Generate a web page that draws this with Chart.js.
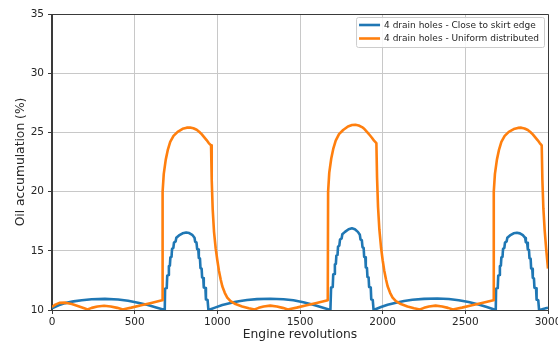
<!DOCTYPE html>
<html>
<head>
<meta charset="utf-8">
<script src="https://cdn.jsdelivr.net/npm/chart.js"></script>
<style>
  html, body { margin: 0; padding: 0; background: #fff; }
  canvas { display: block; }
</style>
</head>
<body>
<canvas id="oilChart" width="558" height="344"></canvas>
<script>
// engine revolutions / oil accumulation (%) for the two drain hole layouts
var closeRev = [
  0, 40, 80, 130, 180, 240, 320, 400, 460, 520, 580, 630, 682,
  684, 694, 697, 704, 707, 713, 716, 723, 726, 734, 738, 748, 752, 768, 790, 812, 830, 848, 862,
  866, 874, 878, 885, 888, 895, 898, 905, 908, 915, 918, 928, 931, 941, 946,
  990, 1030, 1080, 1130, 1180, 1240, 1320, 1400, 1460, 1520, 1580, 1630, 1684,
  1688, 1698, 1701, 1708, 1711, 1717, 1720, 1727, 1730, 1738, 1742, 1752, 1756, 1772, 1794, 1814, 1832, 1850, 1862,
  1866, 1874, 1878, 1885, 1888, 1895, 1898, 1905, 1908, 1915, 1918, 1928, 1931, 1940, 1945,
  1990, 2030, 2080, 2130, 2180, 2250, 2330, 2400, 2460, 2520, 2580, 2630, 2684,
  2686, 2696, 2699, 2706, 2709, 2715, 2718, 2725, 2728, 2736, 2740, 2750, 2754, 2770, 2792, 2812, 2830, 2848, 2862,
  2866, 2874, 2878, 2885, 2888, 2895, 2898, 2905, 2908, 2915, 2918, 2928, 2931, 2941, 2946,
  2960, 2980, 3000
];
var closeOil = [
  10.15, 10.4, 10.58, 10.73, 10.83, 10.91, 10.94, 10.89, 10.78, 10.62, 10.42, 10.22, 10.0,
  11.8, 11.85, 12.9, 12.95, 13.7, 13.75, 14.45, 14.5, 15.15, 15.25, 15.7, 15.8, 16.1, 16.3, 16.48, 16.55, 16.5, 16.35, 16.1,
  15.75, 15.7, 15.15, 15.1, 14.4, 14.35, 13.55, 13.5, 12.75, 12.7, 11.9, 11.85, 10.9, 10.85, 10.0,
  10.22, 10.42, 10.6, 10.74, 10.84, 10.92, 10.95, 10.91, 10.82, 10.66, 10.45, 10.24, 10.0,
  11.9, 11.95, 13.0, 13.05, 13.85, 13.9, 14.6, 14.65, 15.35, 15.45, 15.95, 16.05, 16.4, 16.6, 16.82, 16.9, 16.82, 16.6, 16.35,
  15.95, 15.9, 15.3, 15.25, 14.5, 14.45, 13.6, 13.55, 12.8, 12.75, 11.95, 11.9, 10.9, 10.85, 10.0,
  10.25, 10.44, 10.62, 10.76, 10.86, 10.94, 10.97, 10.93, 10.83, 10.67, 10.46, 10.25, 10.0,
  11.8, 11.85, 12.9, 12.95, 13.7, 13.75, 14.45, 14.5, 15.15, 15.25, 15.7, 15.8, 16.1, 16.3, 16.48, 16.52, 16.47, 16.32, 16.08,
  15.72, 15.67, 15.12, 15.07, 14.38, 14.33, 13.52, 13.47, 12.72, 12.67, 11.88, 11.83, 10.88, 10.83, 10.0,
  10.05, 10.12, 10.2
];

var uniformRev = [
  0, 20, 45, 80, 120, 160, 195, 215, 240, 275, 315, 355, 395, 428, 480, 540, 600, 666,
  669, 676, 688, 700, 715, 735, 760, 790, 815, 835, 855, 875, 890, 905, 920, 935, 948, 962,
  966, 972, 980, 990, 1000, 1010, 1020, 1030, 1045, 1060, 1080, 1110, 1150, 1190, 1225,
  1250, 1280, 1320, 1360, 1395, 1427, 1480, 1540, 1600, 1668,
  1670, 1677, 1689, 1701, 1716, 1736, 1761, 1790, 1815, 1835, 1855, 1875, 1890, 1905, 1920, 1935, 1948, 1962,
  1966, 1972, 1980, 1990, 2000, 2010, 2020, 2030, 2045, 2060, 2080, 2110, 2150, 2190, 2225,
  2250, 2280, 2320, 2360, 2395, 2425, 2480, 2540, 2600, 2670,
  2672, 2679, 2691, 2703, 2718, 2738, 2763, 2793, 2818, 2838, 2858, 2878, 2893, 2908, 2923, 2938, 2950, 2962,
  2966, 2972, 2980, 2990, 3000
];
var uniformOil = [
  10.25, 10.45, 10.6, 10.62, 10.5, 10.32, 10.15, 10.05, 10.18, 10.3, 10.36, 10.3, 10.18, 10.05, 10.2, 10.4, 10.6, 10.82,
  20.0, 21.5, 22.7, 23.5, 24.2, 24.7, 25.05, 25.3, 25.4, 25.42, 25.35, 25.22, 25.05, 24.85, 24.6, 24.35, 24.1, 23.9,
  21.0, 18.5, 16.6, 15.2, 14.2, 13.3, 12.6, 12.0, 11.45, 11.05, 10.75, 10.5, 10.3, 10.15, 10.05,
  10.18, 10.3, 10.37, 10.3, 10.18, 10.05, 10.2, 10.4, 10.6, 10.82,
  20.0, 21.6, 22.8, 23.6, 24.3, 24.85, 25.2, 25.5, 25.62, 25.65, 25.58, 25.45, 25.28, 25.05, 24.8, 24.55, 24.3, 24.1,
  21.2, 18.7, 16.8, 15.3, 14.2, 13.3, 12.6, 12.0, 11.45, 11.05, 10.75, 10.5, 10.3, 10.15, 10.05,
  10.18, 10.3, 10.37, 10.3, 10.18, 10.05, 10.2, 10.4, 10.6, 10.82,
  20.0, 21.5, 22.7, 23.5, 24.2, 24.7, 25.05, 25.28, 25.38, 25.4, 25.33, 25.2, 25.03, 24.83, 24.58, 24.33, 24.1, 23.9,
  21.0, 18.6, 16.7, 15.0, 13.5
];

var seriesNames = ['4 drain holes - Close to skirt edge', '4 drain holes - Uniform distributed'];
var seriesColors = ['#1f77b4', '#ff7f0e'];

function toPoints(xs, ys) {
  return xs.map(function (x, i) { return { x: x, y: ys[i] }; });
}

var fontFamily = '"DejaVu Sans", Verdana, sans-serif';

// top + right frame lines (chart.js only draws the left/bottom axis borders)
var frameBox = {
  id: 'frameBox',
  afterDatasetsDraw: function (chart) {
    var a = chart.chartArea, ctx = chart.ctx;
    ctx.save();
    ctx.strokeStyle = '#3a3a3a';
    ctx.lineWidth = 1;
    ctx.beginPath();
    ctx.moveTo(a.left, a.top + 0.5);
    ctx.lineTo(a.right + 0.5, a.top + 0.5);
    ctx.lineTo(a.right + 0.5, a.bottom);
    ctx.moveTo(a.left - 0.5, a.top);
    ctx.lineTo(a.left - 0.5, a.bottom + 0.5);
    ctx.lineTo(a.right, a.bottom + 0.5);
    ctx.stroke();
    ctx.restore();
  }
};

// legend box sitting inside the plot, upper right
var innerLegend = {
  id: 'innerLegend',
  afterDraw: function (chart) {
    var a = chart.chartArea, ctx = chart.ctx;
    ctx.save();
    ctx.font = '9px ' + fontFamily;
    var textW = Math.max.apply(null, seriesNames.map(function (t) { return ctx.measureText(t).width; }));
    var w = textW + 33, h = 30;
    var x = a.right - 4 - w, y = a.top + 3;
    ctx.fillStyle = 'rgba(255,255,255,0.85)';
    ctx.strokeStyle = '#cccccc';
    ctx.lineWidth = 1;
    ctx.beginPath();
    ctx.roundRect(x + 0.5, y + 0.5, w, h, 2);
    ctx.fill();
    ctx.stroke();
    ctx.textBaseline = 'middle';
    seriesNames.forEach(function (name, i) {
      var ly = y + 8 + i * 13.5;
      ctx.strokeStyle = seriesColors[i];
      ctx.lineWidth = 2.6;
      ctx.beginPath();
      ctx.moveTo(x + 3, ly);
      ctx.lineTo(x + 24, ly);
      ctx.stroke();
      ctx.fillStyle = '#262626';
      ctx.fillText(name, x + 28, ly + 0.5);
    });
    ctx.restore();
  }
};

new Chart(document.getElementById('oilChart'), {
  type: 'line',
  data: {
    datasets: [
      {
        label: seriesNames[0],
        data: toPoints(closeRev, closeOil),
        borderColor: seriesColors[0],
        borderWidth: 2.6,
        pointRadius: 0,
        tension: 0,
        borderJoinStyle: 'round',
        order: 1
      },
      {
        label: seriesNames[1],
        data: toPoints(uniformRev, uniformOil),
        borderColor: seriesColors[1],
        borderWidth: 2.6,
        pointRadius: 0,
        tension: 0,
        borderJoinStyle: 'round',
        order: 0
      }
    ]
  },
  options: {
    responsive: false,
    animation: false,
    devicePixelRatio: 1,
    layout: { padding: { top: 14, right: 10, left: 0, bottom: 0 } },
    plugins: {
      legend: { display: false },
      tooltip: { enabled: false }
    },
    scales: {
      x: {
        type: 'linear',
        min: 0,
        max: 3000,
        ticks: {
          stepSize: 500, padding: 2, color: '#262626', maxRotation: 0,
          font: { family: fontFamily, size: 10.5 },
          callback: function (v) { return String(v); }
        },
        grid: { color: '#c8c8c8', lineWidth: 1, tickLength: 4, tickColor: '#3a3a3a' },
        border: { color: '#3a3a3a', width: 1 },
        title: { display: true, text: 'Engine revolutions', color: '#262626', font: { family: fontFamily, size: 12.3 }, padding: { top: 0, bottom: 2 } },
        afterFit: function (s) { s.height = 34; s.paddingLeft = 0; s.paddingRight = 0; }
      },
      y: {
        min: 10,
        max: 35,
        ticks: { stepSize: 5, padding: 4, color: '#262626', font: { family: fontFamily, size: 10.5 } },
        grid: { color: '#c8c8c8', lineWidth: 1, tickLength: 4, tickColor: '#3a3a3a' },
        border: { color: '#3a3a3a', width: 1 },
        title: { display: true, text: 'Oil accumulation (%)', color: '#262626', font: { family: fontFamily, size: 12.3 }, padding: { top: 13, bottom: 0 } },
        afterFit: function (s) { s.width = 52; }
      }
    }
  },
  plugins: [frameBox, innerLegend]
});
</script>
</body>
</html>
